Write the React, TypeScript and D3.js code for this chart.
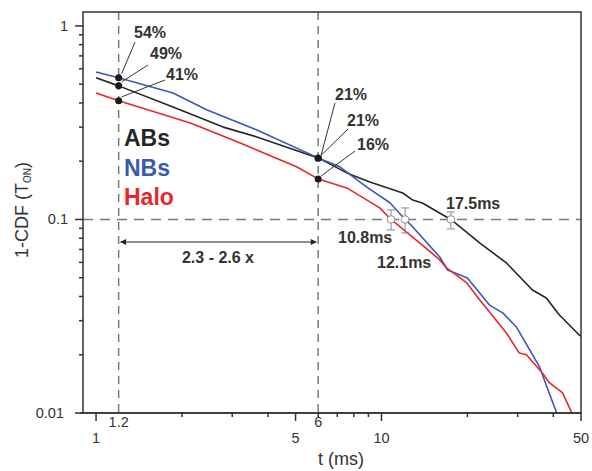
import React from "react";
import * as d3 from "d3";

// ---- data ----
const abs: [number, number][] = [
  [1.0, 0.539], [1.2, 0.49], [1.86, 0.3815], [2.79, 0.3], [3.66, 0.267], [6, 0.208],
  [7.56, 0.174], [9.1, 0.156], [11.87, 0.137], [12.87, 0.126], [13.9, 0.1217], [16.9, 0.103],
  [17.5, 0.1], [22.07, 0.0756], [27.4, 0.0596], [33.8, 0.0432], [37.8, 0.0393],
  [42.0, 0.0321], [49.3, 0.0253], [50, 0.025],
];
const nbs: [number, number][] = [
  [1.0, 0.578], [1.2, 0.54], [1.86, 0.45], [2.45, 0.368], [3.66, 0.29], [6, 0.208],
  [7.15, 0.187], [8.88, 0.147], [10.7, 0.122], [12.1, 0.1], [12.87, 0.0915], [16.0, 0.064],
  [17.05, 0.0548], [20.0, 0.0498], [23.9, 0.0361], [26.6, 0.0329], [29.7, 0.0278],
  [35.8, 0.0173], [37.2, 0.0148], [41.0, 0.0101], [41.5, 0.0095],
];
const halo: [number, number][] = [
  [1.0, 0.4506], [1.2, 0.41], [2.14, 0.3152], [3.2, 0.2485], [5.06, 0.1867], [6, 0.162],
  [7.56, 0.1455], [9.86, 0.1147], [10.8, 0.1], [13.6, 0.0756], [16.0, 0.0618],
  [16.9, 0.0562], [19.9, 0.047], [22.1, 0.0384], [27.4, 0.0259], [30.4, 0.0204],
  [32.2, 0.02], [36.6, 0.0161], [38.8, 0.0143], [43.1, 0.0127], [46.3, 0.0101], [46.6, 0.0095],
];

const seriesNames = ["ABs", "NBs", "Halo"];
const seriesColors = ["#262626", "#3a59b2", "#e8262b"];

// percentage markers
const markT1 = 1.2;
const markT2 = 6;
const markVals1 = [0.54, 0.49, 0.41];
const markLabels1 = ["54%", "49%", "41%"];
const markVals2 = [0.208, 0.207, 0.162];
const markLabels2 = ["21%", "21%", "16%"];

// half-life points with error bars
const halfT = [10.8, 12.1, 17.5];
const halfLabels = ["10.8ms", "12.1ms", "17.5ms"];
const halfLo = [0.0883, 0.0852, 0.0893];
const halfHi = [0.112, 0.1147, 0.1093];
const halfLevel = 0.1;

const xMajorTicks = [1, 5, 10, 50];
const xMinorTicks = [2, 3, 4, 6, 7, 8, 9, 20, 30, 40];
const xExtraLabels = [1.2, 6];
const yMajorTicks = [0.01, 0.1, 1];
const yMinorTicks = [0.02, 0.03, 0.04, 0.05, 0.06, 0.07, 0.08, 0.09, 0.2, 0.3, 0.4, 0.5, 0.6, 0.7, 0.8, 0.9];

const W = 592, H = 471;
const L = 83, R = 581, T = 12, B = 413;
const FONT = "'Liberation Sans', Arial, Helvetica, sans-serif";
const AX = "#333";
const DASH = "#7a7a7a";

export default function App() {
  const x = d3.scaleLog().domain([0.9, 50]).range([L, R]);
  const y = d3.scaleLog().domain([0.01, 1.18]).range([B, T]);
  const line = d3.line<[number, number]>().x(d => x(d[0])).y(d => y(d[1]));
  const data = [abs, nbs, halo];

  // label layout (pixels)
  const lab1 = [ [134, 38], [150, 59], [166, 80] ];
  const lab1Line = [ [135, 42], [148, 65], [165, 80] ];
  const lab2 = [ [335, 100], [347, 126], [357, 150] ];
  const lab2Line = [ [335, 103], [348, 129], [355, 151] ];
  const halfLab = [ [338, 243], [377, 268], [446, 209] ];

  return (
    <svg width={W} height={H} style={{ position: "absolute", left: 0, top: 0, background: "#fff" }} fontFamily={FONT}>
      <defs>
        <clipPath id="plot"><rect x={L} y={T} width={R - L} height={B - T} /></clipPath>
        <marker id="ah" viewBox="0 0 10 10" refX="9" refY="5" markerWidth="8" markerHeight="6" orient="auto-start-reverse" markerUnits="userSpaceOnUse">
          <path d="M0,0 L10,5 L0,10 z" fill="#222" />
        </marker>
      </defs>
      <rect x={0} y={0} width={W} height={H} fill="#fff" />

      {/* dashed guides */}
      <line x1={x(markT1)} x2={x(markT1)} y1={T} y2={B} stroke={DASH} strokeWidth={1.5} strokeDasharray="8,6" />
      <line x1={x(markT2)} x2={x(markT2)} y1={T} y2={B} stroke={DASH} strokeWidth={1.5} strokeDasharray="8,6" />
      <line x1={L} x2={R} y1={y(halfLevel)} y2={y(halfLevel)} stroke={DASH} strokeWidth={1.5} strokeDasharray="10,7" />

      {/* curves */}
      <g clipPath="url(#plot)">
        {data.map((d, i) => (
          <path key={i} d={line(d) || ""} fill="none" stroke={seriesColors[i]} strokeWidth={1.6} strokeLinejoin="round" />
        ))}
      </g>

      {/* frame & axes */}
      <rect x={L} y={T} width={R - L} height={B - T} fill="none" stroke={AX} strokeWidth={1.5} />
      <line x1={L - 3} x2={R} y1={B} y2={B} stroke={AX} strokeWidth={1.5} />
      {xMajorTicks.map(t => (
        <line key={"xM" + t} x1={x(t)} x2={x(t)} y1={B} y2={B + 8} stroke={AX} strokeWidth={1.5} />
      ))}
      {xMinorTicks.map(t => (
        <line key={"xm" + t} x1={x(t)} x2={x(t)} y1={B} y2={B + 4} stroke={AX} strokeWidth={1.5} />
      ))}
      {xMajorTicks.map(t => (
        <text key={"xl" + t} x={x(t)} y={443} textAnchor="middle" fontSize={14.5} fill={AX}>{t}</text>
      ))}
      {xExtraLabels.map(t => (
        <text key={"xe" + t} x={x(t)} y={427} textAnchor="middle" fontSize={14.5} fill={AX}>{t}</text>
      ))}
      {yMajorTicks.map(t => (
        <line key={"yM" + t} x1={L - 8} x2={L} y1={y(t)} y2={y(t)} stroke={AX} strokeWidth={1.5} />
      ))}
      {yMinorTicks.map(t => (
        <line key={"ym" + t} x1={L - 4} x2={L} y1={y(t)} y2={y(t)} stroke={AX} strokeWidth={1.5} />
      ))}
      {yMajorTicks.map(t => (
        <text key={"yl" + t} x={t === 0.01 ? 64 : 68} y={y(t) + 5} textAnchor="end" fontSize={14.5} fill={AX}>{String(t)}</text>
      ))}

      {/* axis titles */}
      <text x={341} y={465} textAnchor="middle" fontSize={18} fill={AX}>t (ms)</text>
      <text transform="translate(28,210) rotate(-90)" textAnchor="middle" fontSize={18} fill={AX}>
        1-CDF (T<tspan fontSize={10} dy={3}>ON</tspan><tspan dy={-3}>)</tspan>
      </text>

      {/* double arrow */}
      <line x1={x(markT1) + 2} x2={x(markT2) - 2} y1={242} y2={242} stroke="#222" strokeWidth={1.1}
        markerStart="url(#ah)" markerEnd="url(#ah)" />
      <text x={218} y={263} textAnchor="middle" fontSize={16} fontWeight="bold" fill="#333">2.3 - 2.6 x</text>

      {/* legend */}
      {seriesNames.map((n, i) => (
        <text key={n} x={124} y={146 + i * 29.5} fontSize={23} fontWeight="bold" fill={seriesColors[i]}>{n}</text>
      ))}

      {/* percentage markers at 1.2 */}
      {markVals1.map((v, i) => (
        <g key={"m1" + i}>
          <line x1={x(markT1) + 3} y1={y(v) - 4} x2={lab1Line[i][0]} y2={lab1Line[i][1]} stroke="#333" strokeWidth={1} />
          <circle cx={x(markT1)} cy={y(v)} r={3.5} fill="#1a1a1a" />
          <text x={lab1[i][0]} y={lab1[i][1]} fontSize={16} fontWeight="bold" fill="#333">{markLabels1[i]}</text>
        </g>
      ))}
      {/* percentage markers at 6 */}
      {markVals2.map((v, i) => (
        <g key={"m2" + i}>
          <line x1={x(markT2) + 3} y1={y(v) - 3} x2={lab2Line[i][0]} y2={lab2Line[i][1]} stroke="#333" strokeWidth={1} />
          <circle cx={x(markT2)} cy={y(v)} r={3.5} fill="#1a1a1a" />
          <text x={lab2[i][0]} y={lab2[i][1]} fontSize={16} fontWeight="bold" fill="#333">{markLabels2[i]}</text>
        </g>
      ))}

      {/* half-life error bars */}
      {halfT.map((t, i) => (
        <g key={"h" + i}>
          <line x1={x(t)} x2={x(t)} y1={y(halfLo[i])} y2={y(halfHi[i])} stroke="#8a8a8a" strokeWidth={1} />
          <line x1={x(t) - 4} x2={x(t) + 4} y1={y(halfLo[i])} y2={y(halfLo[i])} stroke="#8a8a8a" strokeWidth={1} />
          <line x1={x(t) - 4} x2={x(t) + 4} y1={y(halfHi[i])} y2={y(halfHi[i])} stroke="#8a8a8a" strokeWidth={1} />
          <circle cx={x(t)} cy={y(halfLevel)} r={3.8} fill="#fff" stroke="#8a8a8a" strokeWidth={1} />
          <text x={halfLab[i][0]} y={halfLab[i][1]} fontSize={16} fontWeight="bold" fill="#333">{halfLabels[i]}</text>
        </g>
      ))}
    </svg>
  );
}
